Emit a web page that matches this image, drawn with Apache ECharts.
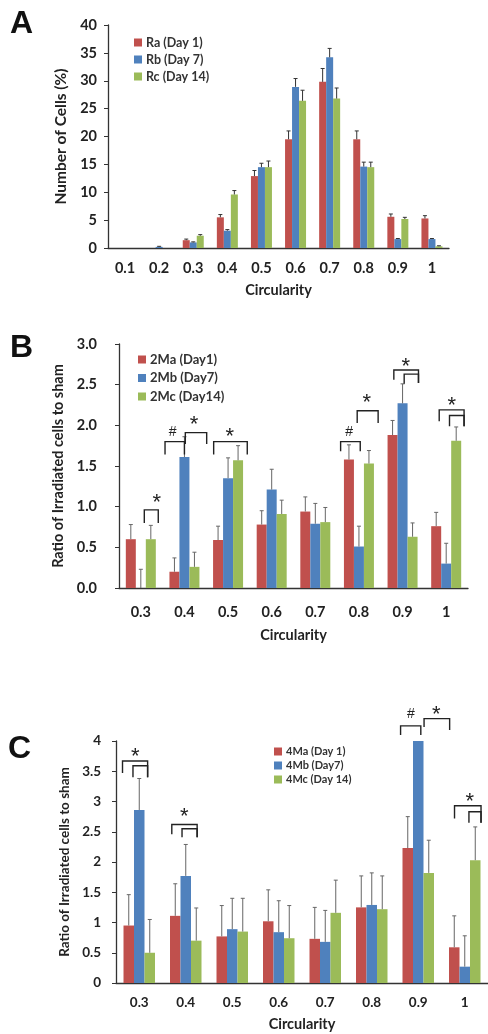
<!DOCTYPE html>
<html>
<head>
<meta charset="utf-8">
<script src="https://cdn.jsdelivr.net/npm/echarts@6/dist/echarts.min.js"></script>
<style>
  html, body { margin: 0; padding: 0; background: #fff; }
  #main { width: 488px; height: 1034px; }
</style>
</head>
<body>
<div id="main"></div>
<script>
// Panel A - distribution of circularity
const catsA = ['0.1', '0.2', '0.3', '0.4', '0.5', '0.6', '0.7', '0.8', '0.9', '1'];
const raA = [0, 0, 1.4, 5.5, 12.9, 19.5, 29.8, 19.5, 5.6, 5.3];
const rbA = [0, 0.2, 1.0, 3.1, 14.5, 28.9, 34.2, 14.6, 1.6, 1.6];
const rcA = [0, 0, 2.2, 9.6, 14.5, 26.4, 26.8, 14.5, 5.2, 0.3];
const raErrA = [0, 0, 0.2, 0.5, 1.0, 1.5, 2.4, 1.5, 0.5, 0.5];
const rbErrA = [0, 0.1, 0.1, 0.2, 0.7, 1.5, 1.6, 0.8, 0.1, 0.1];
const rcErrA = [0, 0, 0.2, 0.7, 1.1, 1.9, 1.9, 0.9, 0.3, 0.1];

// Panel B - 2 Gy ratio to sham
const catsB = ['0.3', '0.4', '0.5', '0.6', '0.7', '0.8', '0.9', '1'];
const maB = [0.60, 0.20, 0.59, 0.78, 0.94, 1.58, 1.88, 0.76];
const mbB = [0, 1.61, 1.35, 1.21, 0.79, 0.51, 2.27, 0.30];
const mcB = [0.60, 0.26, 1.57, 0.91, 0.81, 1.53, 0.63, 1.81];
const maErrB = [0.18, 0.17, 0.17, 0.17, 0.18, 0.18, 0.18, 0.17];
const mbErrB = [0.23, 0.25, 0.25, 0.25, 0.25, 0.25, 0.24, 0.25];
const mcErrB = [0.17, 0.18, 0.18, 0.17, 0.18, 0.16, 0.17, 0.17];

// Panel C - 4 Gy ratio to sham
const catsC = ['0.3', '0.4', '0.5', '0.6', '0.7', '0.8', '0.9', '1'];
const maC = [0.95, 1.11, 0.77, 1.02, 0.73, 1.25, 2.23, 0.59];
const mbC = [2.86, 1.77, 0.89, 0.84, 0.68, 1.29, 4.0, 0.27];
const mcC = [0.50, 0.70, 0.85, 0.74, 1.16, 1.22, 1.82, 2.03];
const maErrC = [0.51, 0.53, 0.51, 0.52, 0.52, 0.52, 0.52, 0.52];
const mbErrC = [0.52, 0.52, 0.51, 0.52, 0.52, 0.53, 0, 0.51];
const mcErrC = [0.55, 0.54, 0.55, 0.54, 0.54, 0.55, 0.54, 0.55];

// significance brackets: [category, left offset, right offset, top, left foot, right foot]
const bracketsB = [
  [0, 0.08, 0.40, 0.96, 0.80, 0.80],
  [1, -0.445, 0.0, 1.80, 1.64, 1.64],
  [1, 0.02, 0.51, 1.91, 1.77, 1.77],
  [2, -0.33, 0.44, 1.80, 1.64, 1.64],
  [5, -0.42, 0.03, 1.80, 1.68, 1.68],
  [5, -0.04, 0.44, 2.18, 2.03, 2.03],
  [6, -0.2, 0.365, 2.68, 2.56, 2.52],
  [6, 0.037, 0.365, 2.63, 2.51, 2.52],
  [7, -0.16, 0.41, 2.19, 2.05, 1.99],
  [7, 0.076, 0.41, 2.12, 1.99, 1.99]
];
const marksB = [
  [0, 0.365, 1.10, '*'],
  [1, -0.27, 1.92, '#'],
  [1, 0.22, 2.07, '*'],
  [2, 0.04, 1.92, '*'],
  [5, -0.225, 1.92, '#'],
  [5, 0.18, 2.33, '*'],
  [6, 0.076, 2.78, '*'],
  [7, 0.13, 2.30, '*']
];
const bracketsC = [
  [0, -0.36, 0.18, 3.67, 3.47, 3.40],
  [0, -0.135, 0.18, 3.59, 3.40, 3.40],
  [1, -0.30, 0.245, 2.62, 2.46, 2.41],
  [1, -0.08, 0.245, 2.55, 2.41, 2.41],
  [6, -0.38, 0.055, 4.25, 4.10, 4.10],
  [6, 0.125, 0.675, 4.37, 4.23, 4.18],
  [7, -0.22, 0.35, 2.93, 2.72, 2.65],
  [7, 0.09, 0.35, 2.83, 2.65, 2.65]
];
const marksC = [
  [0, -0.085, 3.82, '*'],
  [1, -0.03, 2.82, '*'],
  [6, -0.16, 4.45, '#'],
  [6, 0.39, 4.51, '*'],
  [7, 0.11, 3.08, '*']
];

const colors = ['#c0504d', '#4f81bd', '#9bbb59'];
const font = 'Lato, "DejaVu Sans", sans-serif';

function barSeries(name, data, axis, bw, s) {
  return {
    name: name, type: 'bar', data: data,
    xAxisIndex: axis, yAxisIndex: axis,
    barWidth: bw, barGap: '0%',
    itemStyle: { color: colors[s] }
  };
}

function errSeries(data, errs, axis, bw, s, color) {
  return {
    type: 'custom', xAxisIndex: axis, yAxisIndex: axis, z: 3, clip: false,
    data: data.map((v, i) => [i, v, errs[i]]),
    renderItem: function (params, api) {
      const e = api.value(2);
      if (!e) return;
      const v = api.value(1);
      const p0 = api.coord([api.value(0), v]);
      const p1 = api.coord([api.value(0), v + e]);
      const x = p0[0] + (s - 1) * bw;
      return {
        type: 'group',
        children: [
          { type: 'line', shape: { x1: x, y1: p0[1], x2: x, y2: p1[1] }, style: { stroke: color, lineWidth: 1 } },
          { type: 'line', shape: { x1: x - 2, y1: p1[1], x2: x + 2, y2: p1[1] }, style: { stroke: color, lineWidth: 1 } }
        ]
      };
    }
  };
}

function bracketSeries(list, axis) {
  return {
    type: 'custom', xAxisIndex: axis, yAxisIndex: axis, z: 4, clip: false,
    data: list,
    renderItem: function (params, api) {
      const band = api.size([1, 0])[0];
      const c = api.value(0);
      const x1 = api.coord([c, 0])[0] + api.value(1) * band;
      const x2 = api.coord([c, 0])[0] + api.value(2) * band;
      const yt = api.coord([c, api.value(3)])[1];
      const yl = api.coord([c, api.value(4)])[1];
      const yr = api.coord([c, api.value(5)])[1];
      return {
        type: 'polyline',
        shape: { points: [[x1, yl], [x1, yt], [x2, yt], [x2, yr]] },
        style: { stroke: '#222', lineWidth: 1.4, fill: null }
      };
    }
  };
}

function markSeries(list, axis) {
  return {
    type: 'custom', xAxisIndex: axis, yAxisIndex: axis, z: 4, clip: false,
    data: list.map(m => [m[0], m[1], m[2]]),
    renderItem: function (params, api) {
      const band = api.size([1, 0])[0];
      const c = api.value(0);
      const p = api.coord([c, api.value(2)]);
      const txt = list[params.dataIndex][3];
      const star = txt === '*';
      const fs = star ? 22 : 14;
      return {
        type: 'text',
        x: p[0] + api.value(1) * band,
        y: p[1] + (star ? fs * 0.22 : 0),
        style: {
          text: txt, fontSize: fs, fontFamily: '"Liberation Sans", Arial, sans-serif',
          fill: '#222', align: 'center', verticalAlign: 'middle'
        }
      };
    }
  };
}

function xAxisCfg(cats, grid, margin, nameGap, fs) {
  return {
    type: 'category', gridIndex: grid, data: cats,
    name: 'Circularity', nameLocation: 'middle', nameGap: nameGap,
    nameTextStyle: { fontSize: 14.5, fontWeight: 'bold', fontFamily: font, color: '#222' },
    axisLine: { lineStyle: { color: '#333', width: 1.3 } },
    axisTick: { inside: true, length: 4, lineStyle: { color: '#333' } },
    axisLabel: { margin: margin, fontSize: fs, fontWeight: 'bold', fontFamily: font, color: '#222' }
  };
}

function yAxisCfg(grid, max, interval, name, nameFs, nameGap, margin, fs, fmt) {
  return {
    type: 'value', gridIndex: grid, min: 0, max: max, interval: interval,
    name: name, nameLocation: 'middle', nameGap: nameGap,
    nameTextStyle: { fontSize: nameFs, fontWeight: 'bold', fontFamily: font, color: '#222' },
    splitLine: { show: false },
    axisLine: { show: true, lineStyle: { color: '#333', width: 1.3 } },
    axisTick: { show: true, length: 4, lineStyle: { color: '#333' } },
    axisLabel: { margin: margin, fontSize: fs, fontWeight: 'bold', fontFamily: font, color: '#222', formatter: fmt }
  };
}

function legendCfg(names, left, top, fs, gap) {
  return {
    data: names, orient: 'vertical', left: left, top: top,
    icon: 'rect', itemWidth: 8, itemHeight: 8, itemGap: gap,
    selectedMode: false, padding: 0,
    textStyle: { fontSize: fs, fontWeight: 'bold', fontFamily: font, color: '#333', padding: [0, 0, 0, -1] }
  };
}

const chart = echarts.init(document.getElementById('main'), null, { renderer: 'canvas' });

const option = {
  animation: false,
  backgroundColor: '#fff',
  grid: [
    { left: 108, top: 25, width: 341, height: 223 },
    { left: 119, top: 344, width: 349, height: 244 },
    { left: 116, top: 741, width: 379, height: 242 }
  ],
  graphic: [
    { type: 'text', left: 10, top: 8, style: { text: 'A', fontSize: 32, fontWeight: 'bold', fontFamily: '"Liberation Sans", Arial', fill: '#111' } },
    { type: 'text', left: 10, top: 332, style: { text: 'B', fontSize: 32, fontWeight: 'bold', fontFamily: '"Liberation Sans", Arial', fill: '#111' } },
    { type: 'text', left: 8, top: 733, style: { text: 'C', fontSize: 32, fontWeight: 'bold', fontFamily: '"Liberation Sans", Arial', fill: '#111' } }
  ],
  legend: [
    legendCfg(['Ra (Day 1)', 'Rb (Day 7)', 'Rc (Day 14)'], 134, 36, 12.5, 4),
    legendCfg(['2Ma (Day1)', '2Mb (Day7)', '2Mc (Day14)'], 138, 353, 13, 5.5),
    legendCfg(['4Ma (Day 1)', '4Mb (Day7)', '4Mc (Day 14)'], 274, 746, 11, 3)
  ],
  xAxis: [
    xAxisCfg(catsA, 0, 13, 35, 14.5),
    xAxisCfg(catsB, 1, 17, 40, 14.5),
    xAxisCfg(catsC, 2, 13, 34, 13.5)
  ],
  yAxis: [
    yAxisCfg(0, 40, 5, 'Number of Cells (%)', 15.5, 34, 11, 14.5),
    yAxisCfg(1, 3, 0.5, 'Ratio of Irradiated cells to sham', 14.5, 40, 22, 14.5, v => v.toFixed(1)),
    yAxisCfg(2, 4, 0.5, 'Ratio of Irradiated cells to sham', 13.5, 40, 15, 13.5)
  ],
  series: [
    barSeries('Ra (Day 1)', raA, 0, 7, 0),
    barSeries('Rb (Day 7)', rbA, 0, 7, 1),
    barSeries('Rc (Day 14)', rcA, 0, 7, 2),
    errSeries(raA, raErrA, 0, 7, 0, '#333'),
    errSeries(rbA, rbErrA, 0, 7, 1, '#333'),
    errSeries(rcA, rcErrA, 0, 7, 2, '#333'),

    barSeries('2Ma (Day1)', maB, 1, 10, 0),
    barSeries('2Mb (Day7)', mbB, 1, 10, 1),
    barSeries('2Mc (Day14)', mcB, 1, 10, 2),
    errSeries(maB, maErrB, 1, 10, 0, '#666'),
    errSeries(mbB, mbErrB, 1, 10, 1, '#666'),
    errSeries(mcB, mcErrB, 1, 10, 2, '#666'),
    bracketSeries(bracketsB, 1),
    markSeries(marksB, 1),

    barSeries('4Ma (Day 1)', maC, 2, 10.5, 0),
    barSeries('4Mb (Day7)', mbC, 2, 10.5, 1),
    barSeries('4Mc (Day 14)', mcC, 2, 10.5, 2),
    errSeries(maC, maErrC, 2, 10.5, 0, '#666'),
    errSeries(mbC, mbErrC, 2, 10.5, 1, '#666'),
    errSeries(mcC, mcErrC, 2, 10.5, 2, '#666'),
    bracketSeries(bracketsC, 2),
    markSeries(marksC, 2)
  ]
};

chart.setOption(option);
</script>
</body>
</html>
